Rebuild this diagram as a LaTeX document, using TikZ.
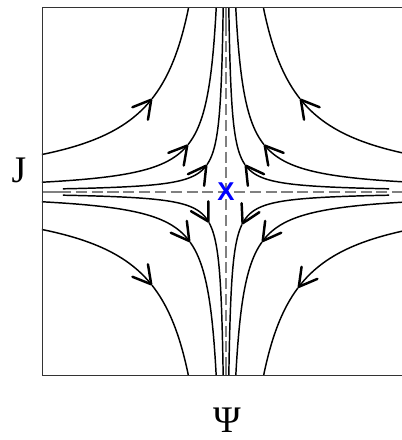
\documentclass[tikz,border=0pt]{standalone}
\usepackage{fontspec}
\setmainfont{Liberation Serif}
\newfontfamily\xsansfont{Liberation Sans}
\usetikzlibrary{arrows.meta}
\newcommand\hyperflow[5]{% #1 sx, #2 sy, #3 k, #4 |u| start, #5 |u| arrow tip
  \pgfmathsetmacro\hypR{sqrt(#3)}
  \pgfmathsetmacro\hypA{ln(\hypR/#4)}
  \pgfmathsetmacro\hypB{ln(\hypR/#5)}
  \pgfmathsetmacro\hypC{ln(192/\hypR)}
  \draw[flow,flowtip] plot[domain=\hypA:\hypB, samples=50, variable=\hp, smooth] ({#1*\hypR*exp(-\hp)},{#2*\hypR*exp(\hp)});
  \draw[flow] plot[domain=\hypB:\hypC, samples=60, variable=\hp, smooth] ({#1*\hypR*exp(-\hp)},{#2*\hypR*exp(\hp)});
}
\begin{document}
\begin{tikzpicture}[x=0.03cm,y=0.03cm,
  flow/.style={line width=1.25pt, black},
  flowtip/.style={-{Straight Barb[length=15pt,width=17pt,line width=2.1pt,round]}},
  axisdash/.style={gray, line width=0.9pt, dash pattern=on 9.5pt off 4pt},
  axissolid/.style={gray, line width=0.9pt},
  frame/.style={line width=0.8pt, black!80}]
\useasboundingbox (-226,192) rectangle (176,-248);
\begin{scope}
\clip (-184,185) rectangle (184,-183);
% axes
\draw[axisdash] (-166,0) -- (166,0);
\draw[axisdash] (0,167) -- (0,-165);
\draw[axissolid] (-184,0) -- (-166,0);
\draw[axissolid] (166,0) -- (184,0);
\draw[axissolid] (0,185) -- (0,167);
\draw[axissolid] (0,-183) -- (0,-165);
% top-left
\hyperflow{-1}{1}{6900}{192}{74}
\hyperflow{-1}{1}{1800}{192}{38}
\hyperflow{-1}{1}{520}{166}{19}
% top-right
\hyperflow{1}{1}{6900}{192}{74}
\hyperflow{1}{1}{1800}{192}{38}
\hyperflow{1}{1}{520}{166}{19}
% bottom-left
\hyperflow{-1}{-1}{6900}{192}{74}
\hyperflow{-1}{-1}{1800}{192}{36}
\hyperflow{-1}{-1}{520}{166}{17}
% bottom-right
\hyperflow{1}{-1}{6900}{192}{72}
\hyperflow{1}{-1}{1800}{192}{36}
\hyperflow{1}{-1}{520}{166}{16}
\end{scope}
\draw[frame] (-184,185) rectangle (184,-183);
\node[inner sep=0pt, text=blue, font=\xsansfont\bfseries\fontsize{22}{22}\selectfont] (xpt) at (0,0.5) {X};
\node[inner sep=0pt, font=\fontsize{32}{32}\selectfont] (jlab) at (-207,22) {J};
\node[inner sep=0pt, font=\fontsize{32}{32}\selectfont] (psilab) at (1,-228) {Ψ};
\end{tikzpicture}
\end{document}
